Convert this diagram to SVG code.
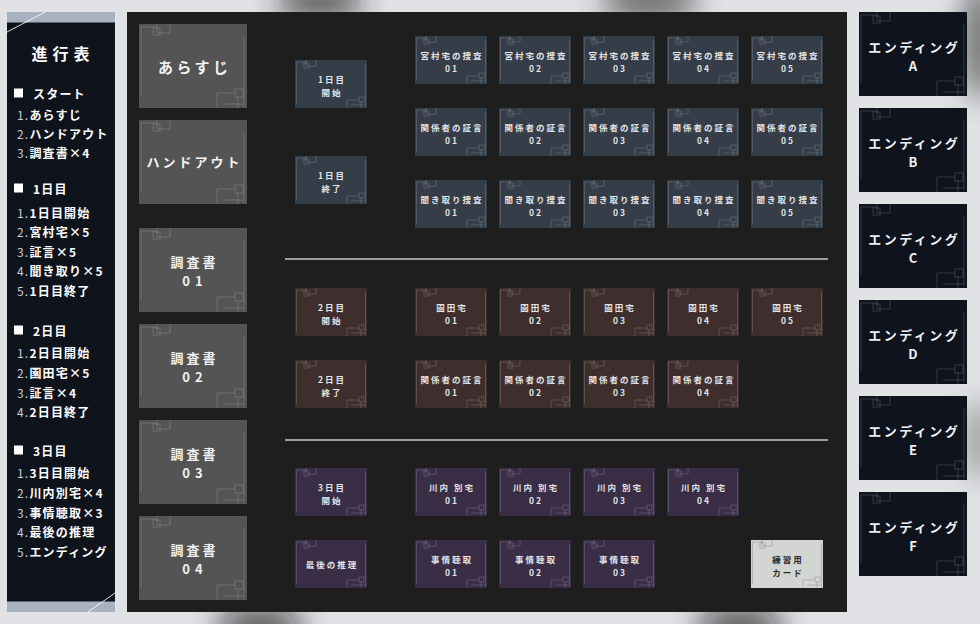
<svg xmlns="http://www.w3.org/2000/svg" xmlns:xlink="http://www.w3.org/1999/xlink" width="980" height="624" viewBox="0 0 980 624">
<style>
text{font-family:"Noto Sans CJK JP","Noto Sans",sans-serif;dominant-baseline:central;text-anchor:middle;font-weight:700}
.deco{fill:none;stroke:#ffffff;stroke-opacity:.16;stroke-width:1}
.decoD{fill:none;stroke:#000;stroke-opacity:.16;stroke-width:1}
.grey{fill:#545454}
.d1{fill:#353d48}
.d2{fill:#3e2f2e}
.d3{fill:#3a2e47}
.end{fill:#0f131d}
.prac{fill:#d3d5d3}
.tBig{fill:#f2f2f2;font-size:15px;letter-spacing:3.5px}
.tMid{fill:#f2f2f2;font-size:13px;letter-spacing:3px}
.tS{fill:#e4e4e4;font-size:8.5px;letter-spacing:2px}
.tSd{fill:#2a2a2a;font-size:8.5px;letter-spacing:2px}
.tEnd{fill:#eef0f4;font-size:13px;letter-spacing:2.5px}
.menu{text-anchor:start;font-size:12px;letter-spacing:1.2px}
.num{fill:#c9cdd6;font-weight:400}
.lbl{fill:#ffffff;font-weight:700}
.hd{fill:#ffffff;font-weight:700}
.sep{stroke:#c9c9c9;stroke-width:1.5}
</style>
<defs>
<filter id="blur" x="-50%" y="-50%" width="200%" height="200%"><feGaussianBlur stdDeviation="14"/></filter>
<g id="decoL" class="deco">
<path d="M2,71V3H18M18,0V9H31V0M105,12V83M84,80H105M78,84V69H96M99,73V84"/>
<rect x="14" y="4" width="7" height="7"/>
<rect x="96" y="65" width="8" height="8"/>
</g>
<g id="decoLd" class="decoD">
<path d="M2,71V3H18M18,0V9H31V0M105,12V83M84,80H105M78,84V69H96M99,73V84"/>
<rect x="14" y="4" width="7" height="7"/>
<rect x="96" y="65" width="8" height="8"/>
</g>
<g id="decoS" class="deco">
<path d="M1.5,44V2H12M11,0V6H21V0M70.5,4V47M56,45H70M52,48V40H64M66,42V48"/>
<rect x="9" y="3" width="5" height="5"/>
<rect x="64" y="37" width="5" height="5"/>
</g>
<g id="decoSd" class="decoD">
<path d="M1.5,44V2H12M11,0V6H21V0M70.5,4V47M56,45H70M52,48V40H64M66,42V48"/>
<rect x="9" y="3" width="5" height="5"/>
<rect x="64" y="37" width="5" height="5"/>
</g>
</defs>

<!-- background -->
<rect width="980" height="624" fill="#e1e2e6"/>
<g filter="url(#blur)" opacity="0.8">
<ellipse cx="320" cy="2" rx="45" ry="16" fill="#2a2a2a"/>
<ellipse cx="650" cy="2" rx="50" ry="16" fill="#3a3a3a"/>
<ellipse cx="980" cy="40" rx="18" ry="60" fill="#555"/>
<ellipse cx="260" cy="624" rx="45" ry="14" fill="#111"/>
<ellipse cx="740" cy="624" rx="45" ry="14" fill="#111"/>
<ellipse cx="980" cy="440" rx="12" ry="40" fill="#777"/>
</g>

<!-- main dark panel -->
<rect x="127" y="12" width="720" height="600" fill="#1e1e1e"/>

<!-- left progress panel -->
<g id="progress">
<rect x="7" y="12" width="108" height="600" fill="#0f131c"/>
<rect x="7" y="12" width="108" height="10.5" fill="#a9b2c1"/>
<rect x="7" y="601.5" width="108" height="10.5" fill="#a9b2c1"/>
<path d="M7,32L45,12M88,612L115,593" stroke="#ffffff" stroke-width="1" opacity=".85"/>
<text x="63" y="53" style="font-size:16px;letter-spacing:5px;fill:#fff">進行表</text>
<g class="hdr">
<rect x="14" y="88.5" width="9" height="9" fill="#fff"/>
<text class="menu hd" x="33" y="93">スタート</text>
<text class="menu" x="17" y="114"><tspan class="num">1.</tspan><tspan class="lbl">あらすじ</tspan></text>
<text class="menu" x="17" y="133"><tspan class="num">2.</tspan><tspan class="lbl">ハンドアウト</tspan></text>
<text class="menu" x="17" y="152"><tspan class="num">3.</tspan><tspan class="lbl">調査書×4</tspan></text>

<rect x="14" y="183.5" width="9" height="9" fill="#fff"/>
<text class="menu hd" x="33" y="188">1日目</text>
<text class="menu" x="17" y="212"><tspan class="num">1.</tspan><tspan class="lbl">1日目開始</tspan></text>
<text class="menu" x="17" y="231"><tspan class="num">2.</tspan><tspan class="lbl">宮村宅×5</tspan></text>
<text class="menu" x="17" y="250.5"><tspan class="num">3.</tspan><tspan class="lbl">証言×5</tspan></text>
<text class="menu" x="17" y="270"><tspan class="num">4.</tspan><tspan class="lbl">聞き取り×5</tspan></text>
<text class="menu" x="17" y="290"><tspan class="num">5.</tspan><tspan class="lbl">1日目終了</tspan></text>

<rect x="14" y="325.5" width="9" height="9" fill="#fff"/>
<text class="menu hd" x="33" y="330">2日目</text>
<text class="menu" x="17" y="352"><tspan class="num">1.</tspan><tspan class="lbl">2日目開始</tspan></text>
<text class="menu" x="17" y="372"><tspan class="num">2.</tspan><tspan class="lbl">園田宅×5</tspan></text>
<text class="menu" x="17" y="391.5"><tspan class="num">3.</tspan><tspan class="lbl">証言×4</tspan></text>
<text class="menu" x="17" y="410.5"><tspan class="num">4.</tspan><tspan class="lbl">2日目終了</tspan></text>

<rect x="14" y="445.5" width="9" height="9" fill="#fff"/>
<text class="menu hd" x="33" y="450">3日目</text>
<text class="menu" x="17" y="472"><tspan class="num">1.</tspan><tspan class="lbl">3日目開始</tspan></text>
<text class="menu" x="17" y="491.5"><tspan class="num">2.</tspan><tspan class="lbl">川内別宅×4</tspan></text>
<text class="menu" x="17" y="511.5"><tspan class="num">3.</tspan><tspan class="lbl">事情聴取×3</tspan></text>
<text class="menu" x="17" y="531"><tspan class="num">4.</tspan><tspan class="lbl">最後の推理</tspan></text>
<text class="menu" x="17" y="550.5"><tspan class="num">5.</tspan><tspan class="lbl">エンディング</tspan></text>
</g>
</g>

<!-- left column cards -->
<g id="arasuji"><rect class="grey" x="139" y="24" width="108" height="84"/><use href="#decoL" x="139" y="24"/><text class="tBig" x="194.75" y="66">あらすじ</text></g>
<g id="handout"><rect class="grey" x="139" y="120" width="108" height="84"/><use href="#decoL" x="139" y="120"/><text class="tMid" x="194.5" y="161">ハンドアウト</text></g>
<g id="chosa01"><rect class="grey" x="139" y="228" width="108" height="84"/><use href="#decoL" x="139" y="228"/><text class="tMid" x="194.5" y="261">調査書</text><text class="tMid" x="195" y="280" style="letter-spacing:5px">01</text></g>
<g id="chosa02"><rect class="grey" x="139" y="324" width="108" height="84"/><use href="#decoL" x="139" y="324"/><text class="tMid" x="194.5" y="357">調査書</text><text class="tMid" x="195" y="376" style="letter-spacing:5px">02</text></g>
<g id="chosa03"><rect class="grey" x="139" y="420" width="108" height="84"/><use href="#decoL" x="139" y="420"/><text class="tMid" x="194.5" y="453">調査書</text><text class="tMid" x="195" y="472" style="letter-spacing:5px">03</text></g>
<g id="chosa04"><rect class="grey" x="139" y="516" width="108" height="84"/><use href="#decoL" x="139" y="516"/><text class="tMid" x="194.5" y="549">調査書</text><text class="tMid" x="195" y="568" style="letter-spacing:5px">04</text></g>

<!-- day 1 -->
<g id="d1start"><rect class="d1" x="295" y="60" width="72" height="48"/><use href="#decoS" x="295" y="60"/><text class="tS" x="332" y="78.5">1日目</text><text class="tS" x="332" y="91.5">開始</text></g>
<g id="d1end"><rect class="d1" x="295" y="156" width="72" height="48"/><use href="#decoS" x="295" y="156"/><text class="tS" x="332" y="174.5">1日目</text><text class="tS" x="332" y="187.5">終了</text></g>

<g id="miyamura01"><rect class="d1" x="415" y="36" width="72" height="48"/><use href="#decoS" x="415" y="36"/><text class="tS" x="452" y="55">宮村宅の捜査</text><text class="tS" x="452" y="68">01</text></g>
<g id="miyamura02"><rect class="d1" x="499" y="36" width="72" height="48"/><use href="#decoS" x="499" y="36"/><text class="tS" x="536" y="55">宮村宅の捜査</text><text class="tS" x="536" y="68">02</text></g>
<g id="miyamura03"><rect class="d1" x="583" y="36" width="72" height="48"/><use href="#decoS" x="583" y="36"/><text class="tS" x="620" y="55">宮村宅の捜査</text><text class="tS" x="620" y="68">03</text></g>
<g id="miyamura04"><rect class="d1" x="667" y="36" width="72" height="48"/><use href="#decoS" x="667" y="36"/><text class="tS" x="704" y="55">宮村宅の捜査</text><text class="tS" x="704" y="68">04</text></g>
<g id="miyamura05"><rect class="d1" x="751" y="36" width="72" height="48"/><use href="#decoS" x="751" y="36"/><text class="tS" x="788" y="55">宮村宅の捜査</text><text class="tS" x="788" y="68">05</text></g>

<g id="d1shogen01"><rect class="d1" x="415" y="108" width="72" height="48"/><use href="#decoS" x="415" y="108"/><text class="tS" x="452" y="127">関係者の証言</text><text class="tS" x="452" y="140">01</text></g>
<g id="d1shogen02"><rect class="d1" x="499" y="108" width="72" height="48"/><use href="#decoS" x="499" y="108"/><text class="tS" x="536" y="127">関係者の証言</text><text class="tS" x="536" y="140">02</text></g>
<g id="d1shogen03"><rect class="d1" x="583" y="108" width="72" height="48"/><use href="#decoS" x="583" y="108"/><text class="tS" x="620" y="127">関係者の証言</text><text class="tS" x="620" y="140">03</text></g>
<g id="d1shogen04"><rect class="d1" x="667" y="108" width="72" height="48"/><use href="#decoS" x="667" y="108"/><text class="tS" x="704" y="127">関係者の証言</text><text class="tS" x="704" y="140">04</text></g>
<g id="d1shogen05"><rect class="d1" x="751" y="108" width="72" height="48"/><use href="#decoS" x="751" y="108"/><text class="tS" x="788" y="127">関係者の証言</text><text class="tS" x="788" y="140">05</text></g>

<g id="kikitori01"><rect class="d1" x="415" y="180" width="72" height="48"/><use href="#decoS" x="415" y="180"/><text class="tS" x="452" y="199">聞き取り捜査</text><text class="tS" x="452" y="212">01</text></g>
<g id="kikitori02"><rect class="d1" x="499" y="180" width="72" height="48"/><use href="#decoS" x="499" y="180"/><text class="tS" x="536" y="199">聞き取り捜査</text><text class="tS" x="536" y="212">02</text></g>
<g id="kikitori03"><rect class="d1" x="583" y="180" width="72" height="48"/><use href="#decoS" x="583" y="180"/><text class="tS" x="620" y="199">聞き取り捜査</text><text class="tS" x="620" y="212">03</text></g>
<g id="kikitori04"><rect class="d1" x="667" y="180" width="72" height="48"/><use href="#decoS" x="667" y="180"/><text class="tS" x="704" y="199">聞き取り捜査</text><text class="tS" x="704" y="212">04</text></g>
<g id="kikitori05"><rect class="d1" x="751" y="180" width="72" height="48"/><use href="#decoS" x="751" y="180"/><text class="tS" x="788" y="199">聞き取り捜査</text><text class="tS" x="788" y="212">05</text></g>

<g id="separators">
<line class="sep" x1="285" y1="259" x2="828" y2="259"/>
<line class="sep" x1="285" y1="440" x2="828" y2="440"/>
</g>

<!-- day 2 -->
<g id="d2start"><rect class="d2" x="295" y="288" width="72" height="48"/><use href="#decoS" x="295" y="288"/><text class="tS" x="332" y="306.5">2日目</text><text class="tS" x="332" y="319.5">開始</text></g>
<g id="d2end"><rect class="d2" x="295" y="360" width="72" height="48"/><use href="#decoS" x="295" y="360"/><text class="tS" x="332" y="378.5">2日目</text><text class="tS" x="332" y="391.5">終了</text></g>

<g id="sonoda01"><rect class="d2" x="415" y="288" width="72" height="48"/><use href="#decoS" x="415" y="288"/><text class="tS" x="452" y="307">園田宅</text><text class="tS" x="452" y="320">01</text></g>
<g id="sonoda02"><rect class="d2" x="499" y="288" width="72" height="48"/><use href="#decoS" x="499" y="288"/><text class="tS" x="536" y="307">園田宅</text><text class="tS" x="536" y="320">02</text></g>
<g id="sonoda03"><rect class="d2" x="583" y="288" width="72" height="48"/><use href="#decoS" x="583" y="288"/><text class="tS" x="620" y="307">園田宅</text><text class="tS" x="620" y="320">03</text></g>
<g id="sonoda04"><rect class="d2" x="667" y="288" width="72" height="48"/><use href="#decoS" x="667" y="288"/><text class="tS" x="704" y="307">園田宅</text><text class="tS" x="704" y="320">04</text></g>
<g id="sonoda05"><rect class="d2" x="751" y="288" width="72" height="48"/><use href="#decoS" x="751" y="288"/><text class="tS" x="788" y="307">園田宅</text><text class="tS" x="788" y="320">05</text></g>

<g id="d2shogen01"><rect class="d2" x="415" y="360" width="72" height="48"/><use href="#decoS" x="415" y="360"/><text class="tS" x="452" y="379">関係者の証言</text><text class="tS" x="452" y="392">01</text></g>
<g id="d2shogen02"><rect class="d2" x="499" y="360" width="72" height="48"/><use href="#decoS" x="499" y="360"/><text class="tS" x="536" y="379">関係者の証言</text><text class="tS" x="536" y="392">02</text></g>
<g id="d2shogen03"><rect class="d2" x="583" y="360" width="72" height="48"/><use href="#decoS" x="583" y="360"/><text class="tS" x="620" y="379">関係者の証言</text><text class="tS" x="620" y="392">03</text></g>
<g id="d2shogen04"><rect class="d2" x="667" y="360" width="72" height="48"/><use href="#decoS" x="667" y="360"/><text class="tS" x="704" y="379">関係者の証言</text><text class="tS" x="704" y="392">04</text></g>

<!-- day 3 -->
<g id="d3start"><rect class="d3" x="295" y="468" width="72" height="48"/><use href="#decoS" x="295" y="468"/><text class="tS" x="332" y="486.5">3日目</text><text class="tS" x="332" y="499.5">開始</text></g>
<g id="suiri"><rect class="d3" x="295" y="540" width="72" height="48"/><use href="#decoS" x="295" y="540"/><text class="tS" x="332" y="564">最後の推理</text></g>

<g id="kawauchi01"><rect class="d3" x="415" y="468" width="72" height="48"/><use href="#decoS" x="415" y="468"/><text class="tS" x="452" y="487">川内 別宅</text><text class="tS" x="452" y="500">01</text></g>
<g id="kawauchi02"><rect class="d3" x="499" y="468" width="72" height="48"/><use href="#decoS" x="499" y="468"/><text class="tS" x="536" y="487">川内 別宅</text><text class="tS" x="536" y="500">02</text></g>
<g id="kawauchi03"><rect class="d3" x="583" y="468" width="72" height="48"/><use href="#decoS" x="583" y="468"/><text class="tS" x="620" y="487">川内 別宅</text><text class="tS" x="620" y="500">03</text></g>
<g id="kawauchi04"><rect class="d3" x="667" y="468" width="72" height="48"/><use href="#decoS" x="667" y="468"/><text class="tS" x="704" y="487">川内 別宅</text><text class="tS" x="704" y="500">04</text></g>

<g id="jijo01"><rect class="d3" x="415" y="540" width="72" height="48"/><use href="#decoS" x="415" y="540"/><text class="tS" x="452" y="559">事情聴取</text><text class="tS" x="452" y="572">01</text></g>
<g id="jijo02"><rect class="d3" x="499" y="540" width="72" height="48"/><use href="#decoS" x="499" y="540"/><text class="tS" x="536" y="559">事情聴取</text><text class="tS" x="536" y="572">02</text></g>
<g id="jijo03"><rect class="d3" x="583" y="540" width="72" height="48"/><use href="#decoS" x="583" y="540"/><text class="tS" x="620" y="559">事情聴取</text><text class="tS" x="620" y="572">03</text></g>

<g id="practice"><rect class="prac" x="751" y="540" width="72" height="48"/><use href="#decoSd" x="751" y="540"/><text class="tSd" x="788" y="558.5">練習用</text><text class="tSd" x="788" y="571.5">カード</text></g>

<!-- endings -->
<g id="endingA"><rect class="end" x="859" y="12" width="108" height="84"/><use href="#decoL" x="859" y="12"/><text class="tEnd" x="914.25" y="46">エンディング</text><text class="tEnd" x="914.25" y="65">A</text></g>
<g id="endingB"><rect class="end" x="859" y="108" width="108" height="84"/><use href="#decoL" x="859" y="108"/><text class="tEnd" x="914.25" y="142">エンディング</text><text class="tEnd" x="914.25" y="161">B</text></g>
<g id="endingC"><rect class="end" x="859" y="204" width="108" height="84"/><use href="#decoL" x="859" y="204"/><text class="tEnd" x="914.25" y="238">エンディング</text><text class="tEnd" x="914.25" y="257">C</text></g>
<g id="endingD"><rect class="end" x="859" y="300" width="108" height="84"/><use href="#decoL" x="859" y="300"/><text class="tEnd" x="914.25" y="334">エンディング</text><text class="tEnd" x="914.25" y="353">D</text></g>
<g id="endingE"><rect class="end" x="859" y="396" width="108" height="84"/><use href="#decoL" x="859" y="396"/><text class="tEnd" x="914.25" y="430">エンディング</text><text class="tEnd" x="914.25" y="449">E</text></g>
<g id="endingF"><rect class="end" x="859" y="492" width="108" height="84"/><use href="#decoL" x="859" y="492"/><text class="tEnd" x="914.25" y="526">エンディング</text><text class="tEnd" x="914.25" y="545">F</text></g>

<g id="connectors"></g>
</svg>
